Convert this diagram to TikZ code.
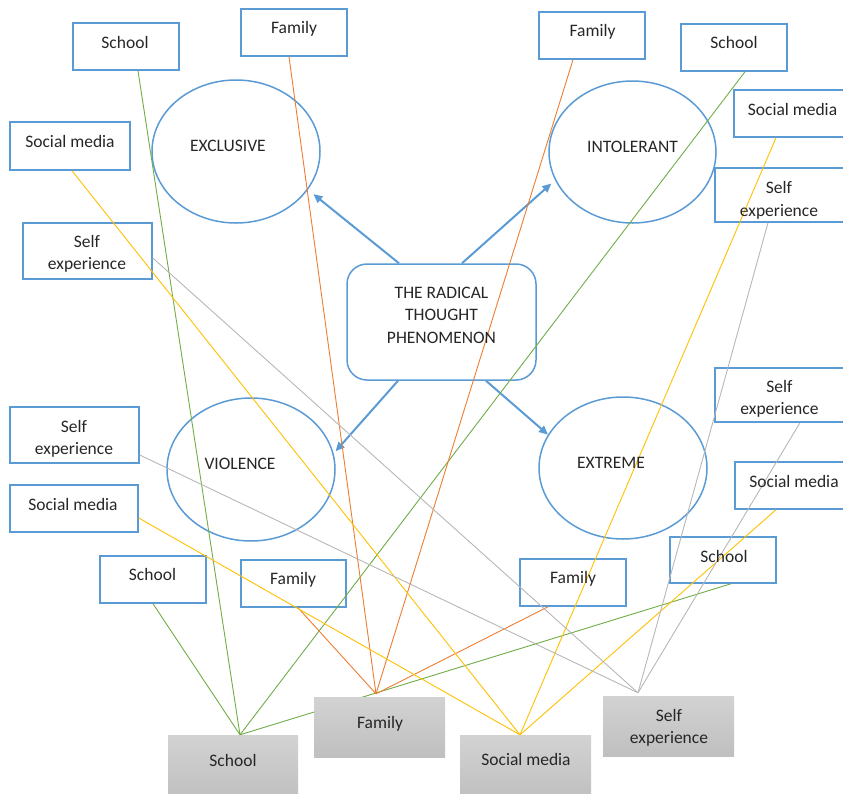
\documentclass[tikz,border=0pt]{standalone}
\usepackage{fontspec}
\setmainfont{Carlito}
\usetikzlibrary{arrows.meta,shapes.geometric,fit}
\definecolor{obl}{HTML}{5B9BD5}
\definecolor{oor}{HTML}{ED7D31}
\definecolor{oye}{HTML}{FFC000}
\definecolor{ogr}{HTML}{70AD47}
\definecolor{ogy}{HTML}{A5A5A5}
\pgfdeclarelayer{fg}
\pgfsetlayers{main,fg}
\newcommand\twol[2]{\begin{tabular}[t]{@{}c@{}}#1\\#2\end{tabular}}
\begin{document}
\begin{tikzpicture}[x=1pt,y=-1pt,
  bbox/.style={draw=obl, line width=1.5pt, inner sep=0pt},
  ell/.style={ellipse, draw=obl, line width=1.5pt, inner sep=0pt},
  gbox/.style={inner sep=0pt, top color=gray!35, bottom color=gray!50},
  txt/.style={anchor=base, inner sep=0pt, text=black!85, font=\fontsize{17.5}{22.5}\selectfont},
  lnk/.style={line width=0.9pt},
  arr/.style={draw=obl, line width=2pt, -{Triangle[length=9pt,width=8pt]}}]
\useasboundingbox (0,0) rectangle (843,793);
\clip (0,0) rectangle (843,793);
% gray boxes (on top layer)
\begin{pgfonlayer}{fg}
\node[gbox, fit={(168,735)(298,800)}] (sB) {};
\node[gbox, fit={(314,697)(445,757)}] (fB) {};
\node[gbox, fit={(460,735)(591,800)}] (mB) {};
\node[gbox, fit={(603,696)(734,756)}] (eB) {};
\end{pgfonlayer}
% blue boxes
\node[bbox, fit={(73,23)(179,70)}] (sTL) {};
\node[bbox, fit={(241,9)(347,56)}] (fT1) {};
\node[bbox, fit={(10,122)(130,170)}] (mL1) {};
\node[bbox, fit={(23,223)(152,279)}] (eL1) {};
\node[bbox, fit={(539,12)(645,59)}] (fT2) {};
\node[bbox, fit={(681,24)(787,71)}] (sTR) {};
\node[bbox, fit={(734,90)(850,137)}] (mR1) {};
\node[bbox, fit={(715,168)(850,222)}] (eR1) {};
\node[bbox, fit={(715,368)(850,422)}] (eR2) {};
\node[bbox, fit={(735,462)(850,509)}] (mR2) {};
\node[bbox, fit={(670,537)(776,583)}] (sR3) {};
\node[bbox, fit={(520,559)(626,606)}] (fR4) {};
\node[bbox, fit={(10,407)(139,463)}] (eL2) {};
\node[bbox, fit={(10,485)(138,532)}] (mL3) {};
\node[bbox, fit={(100,556)(206,603)}] (sL4) {};
\node[bbox, fit={(241,560)(346,607)}] (fL5) {};
% ellipses
\node[ell, minimum width=168, minimum height=143] (excl) at (236,151.5) {};
\node[ell, minimum width=167, minimum height=142] (intol) at (632.5,152) {};
\node[ell, minimum width=168, minimum height=143] (viol) at (251,469.5) {};
\node[ell, minimum width=168, minimum height=142] (extr) at (623,468) {};
% central
\node[draw=obl, line width=1.5pt, rounded corners=20pt, inner sep=0pt,
      minimum width=189, minimum height=116] (c) at (441.5,322) {};
% arrows
\draw[arr, shorten >=7pt] ([xshift=-42.5pt]c.north) -- (excl.-28);
\draw[arr, shorten >=5pt] ([xshift=20.5pt]c.north) -- (intol.200);
\draw[arr, shorten >=3pt] ([xshift=-43.5pt]c.south) -- (viol.11);
\draw[arr] ([xshift=44.5pt]c.south) -- (extr.156);
% green lines to School
\draw[lnk, ogr] ([xshift=12pt]sTL.south) -- ([xshift=7pt]sB.north);
\draw[lnk, ogr] ([xshift=11pt]sTR.south) -- ([xshift=7pt]sB.north);
\draw[lnk, ogr] (sL4.south) -- ([xshift=7pt]sB.north);
\draw[lnk, ogr] ([xshift=8pt]sR3.south) -- ([xshift=7pt]sB.north);
% orange lines to Family
\draw[lnk, oor] ([xshift=-5pt]fT1.south) -- ([xshift=-3.5pt,yshift=3pt]fB.north);
\draw[lnk, oor] ([xshift=-19pt]fT2.south) -- ([xshift=-3.5pt,yshift=3pt]fB.north);
\draw[lnk, oor] ([xshift=4.5pt]fL5.south) -- ([xshift=-3.5pt,yshift=3pt]fB.north);
\draw[lnk, oor] ([xshift=-25pt]fR4.south) -- ([xshift=-3.5pt,yshift=3pt]fB.north);
% yellow lines to Social media
\draw[lnk, oye] ([xshift=2pt]mL1.south) -- ([xshift=-5.5pt]mB.north);
\draw[lnk, oye] ([xshift=-16pt]mR1.south) -- ([xshift=-5.5pt]mB.north);
\draw[lnk, oye] ([yshift=-9.5pt]mL3.east) -- ([xshift=-5.5pt]mB.north);
\draw[lnk, oye] ([xshift=-16.5pt]mR2.south) -- ([xshift=-5.5pt]mB.north);
% gray lines to Self experience
\draw[lnk, ogy!80] ([yshift=-7pt]eL1.east) -- ([xshift=-30.5pt,yshift=3pt]eB.north);
\draw[lnk, ogy!80] ([xshift=-14.5pt]eR1.south) -- ([xshift=-30.5pt,yshift=3pt]eB.north);
\draw[lnk, ogy!80] ([yshift=-20pt]eL2.east) -- ([xshift=-30.5pt,yshift=3pt]eB.north);
\draw[lnk, ogy!80] ([xshift=17.5pt]eR2.south) -- ([xshift=-30.5pt,yshift=3pt]eB.north);
% texts
\begin{pgfonlayer}{fg}
\node[txt] at (125,48) {School};
\node[txt] at (294,33) {Family};
\node[txt] at (70,147) {Social media};
\node[txt] at (87,247) {\twol{Self}{experience}};
\node[txt] at (592.5,36) {Family};
\node[txt] at (734,48) {School};
\node[txt] at (792.5,115) {Social media};
\node[txt] at (779,193.5) {\twol{Self}{experience}};
\node[txt] at (779.5,392) {\twol{Self}{experience}};
\node[txt] at (794,487) {Social media};
\node[txt] at (724,562) {School};
\node[txt] at (573,583) {Family};
\node[txt] at (74,432) {\twol{Self}{experience}};
\node[txt] at (73,510) {Social media};
\node[txt] at (152.5,580) {School};
\node[txt] at (293,584) {Family};
\node[txt] at (228,151) {EXCLUSIVE};
\node[txt] at (632.5,152) {INTOLERANT};
\node[txt] at (240,469) {VIOLENCE};
\node[txt] at (611,468) {EXTREME};
\node[txt] at (441.5,298) {\begin{tabular}[t]{@{}c@{}}THE RADICAL\\THOUGHT\\PHENOMENON\end{tabular}};
\node[txt] at (233,766) {School};
\node[txt] at (380,728) {Family};
\node[txt] at (526,765) {Social media};
\node[txt] at (669,721) {\twol{Self}{experience}};
\end{pgfonlayer}
\end{tikzpicture}
\end{document}
